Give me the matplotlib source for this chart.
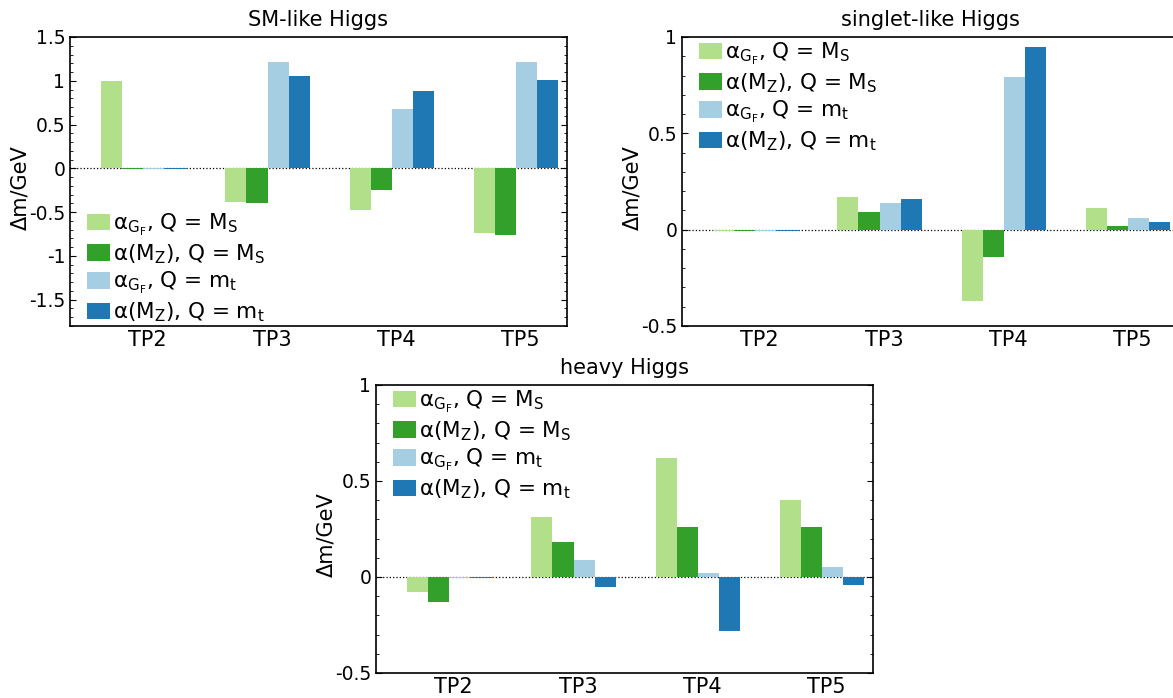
import numpy as np
import matplotlib.pyplot as plt
from matplotlib.ticker import MultipleLocator, FormatStrFormatter

plt.rcParams['font.family'] = 'DejaVu Sans'
plt.rcParams['axes.unicode_minus'] = False

# Data
points = ['TP2', 'TP3', 'TP4', 'TP5']
labels = ['α$_{\\mathrm{G_F}}$, Q = M$_\\mathrm{S}$',
          'α(M$_\\mathrm{Z}$), Q = M$_\\mathrm{S}$',
          'α$_{\\mathrm{G_F}}$, Q = m$_\\mathrm{t}$',
          'α(M$_\\mathrm{Z}$), Q = m$_\\mathrm{t}$']
colors = ['#b2df8a', '#33a02c', '#a6cee3', '#1f78b4']

sm_gf_ms = [1.00, -0.38, -0.48, -0.74]
sm_mz_ms = [-0.008, -0.39, -0.25, -0.76]
sm_gf_mt = [-0.008, 1.21, 0.68, 1.21]
sm_mz_mt = [-0.008, 1.06, 0.88, 1.01]

singlet_gf_ms = [-0.006, 0.17, -0.37, 0.11]
singlet_mz_ms = [-0.006, 0.09, -0.14, 0.02]
singlet_gf_mt = [-0.006, 0.14, 0.79, 0.06]
singlet_mz_mt = [-0.006, 0.16, 0.95, 0.04]

heavy_gf_ms = [-0.08, 0.31, 0.62, 0.40]
heavy_mz_ms = [-0.13, 0.18, 0.26, 0.26]
heavy_gf_mt = [-0.006, 0.09, 0.02, 0.05]
heavy_mz_mt = [-0.006, -0.05, -0.28, -0.04]

W, H = 1173, 698
fig = plt.figure(figsize=(W / 100, H / 100), dpi=100)

def make_axes(left, top, right, bottom):
    return fig.add_axes([left / W, 1 - bottom / H, (right - left) / W, (bottom - top) / H])

def panel(ax, title, series, ylim, major, legend_loc, legend_anchor):
    x = np.arange(len(points))
    width = 0.17
    for k, vals in enumerate(series):
        ax.bar(x - 0.375 + k * width, vals, width, align='edge', color=colors[k],
               linewidth=0, label=labels[k], zorder=2)
    ax.axhline(0, color='black', ls=':', lw=0.9, zorder=1)
    ax.set_xlim(-0.625, 3.375)
    ax.set_ylim(*ylim)
    ax.set_xticks(x)
    ax.set_xticklabels(points)
    ax.yaxis.set_major_locator(MultipleLocator(major))
    ax.yaxis.set_minor_locator(MultipleLocator(0.1))
    ax.yaxis.set_major_formatter(FormatStrFormatter('%g'))
    ax.tick_params(axis='y', which='both', direction='in', left=True, right=True, labelsize=13.5)
    ax.tick_params(axis='y', which='major', length=4)
    ax.tick_params(axis='y', which='minor', length=2)
    ax.tick_params(axis='x', length=0, labelsize=15, pad=3)
    for s in ax.spines.values():
        s.set_linewidth(1.2)
    ax.set_ylabel('Δm/GeV', fontsize=15)
    ax.yaxis.set_label_coords(-40 / 497, 0.48)
    ax.set_title(title, fontsize=15, pad=8)
    ax.legend(loc=legend_loc, bbox_to_anchor=legend_anchor, frameon=False, fontsize=15.5,
              handlelength=1.05, handleheight=0.8, handletextpad=0.15, labelspacing=0.2,
              borderpad=0.1, borderaxespad=0.0)

ax1 = make_axes(70, 37, 567, 326)
panel(ax1, 'SM-like Higgs', [sm_gf_ms, sm_mz_ms, sm_gf_mt, sm_mz_mt],
      (-1.8, 1.5), 0.5, 'lower left', (0.03, 0.0))

ax2 = make_axes(682, 37, 1179, 326)
panel(ax2, 'singlet-like Higgs', [singlet_gf_ms, singlet_mz_ms, singlet_gf_mt, singlet_mz_mt],
      (-0.5, 1.0), 0.5, 'upper left', (0.03, 0.995))

ax3 = make_axes(376, 385, 873, 673)
panel(ax3, 'heavy Higgs', [heavy_gf_ms, heavy_mz_ms, heavy_gf_mt, heavy_mz_mt],
      (-0.5, 1.0), 0.5, 'upper left', (0.03, 0.995))

fig.savefig('out.png', dpi=100)
